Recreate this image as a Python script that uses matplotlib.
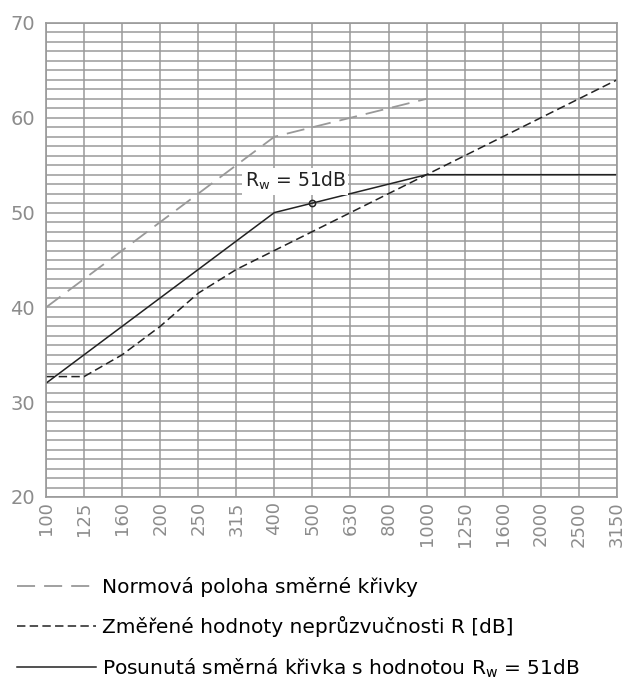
import matplotlib
matplotlib.use('Agg')
import matplotlib.pyplot as plt
from matplotlib.ticker import MultipleLocator

plt.rcParams['font.family'] = ['DejaVu Sans']

# frekvence [Hz]
freqs = ['100', '125', '160', '200', '250', '315', '400', '500', '630',
         '800', '1000', '1250', '1600', '2000', '2500', '3150']

# normova poloha smerne krivky (do 1000 Hz)
refCurve = [40, 43, 46, 49, 52, 55, 58, 59, 60, 61, 62]

# zmerene hodnoty R [dB]
measured = [32.7, 32.7, 35, 38, 41.5, 44, 46, 48, 50, 52, 54,
            56, 58, 60, 62, 64]

# posunuta smerna krivka
shifted = [32, 35, 38, 41, 44, 47, 50, 51, 52, 53, 54,
           54, 54, 54, 54, 54]

rwIndex = 7
rwValue = 51

gridColor = '#9a9a9a'
tickColor = '#8c8c8c'

fig = plt.figure(figsize=(6.26, 6.84), dpi=100)
ax = fig.add_axes([0.0735, 0.2734, 0.912, 0.693])

xs = list(range(len(freqs)))

l1, = ax.plot(xs[:len(refCurve)], refCurve, color='#999999', linewidth=1.3,
              dashes=(10, 5), label='Normová poloha směrné křivky')
l2, = ax.plot(xs, measured, color='#222222', linewidth=1.1,
              dashes=(5.5, 2.8), label='Změřené hodnoty neprůzvučnosti R [dB]')
l3, = ax.plot(xs, shifted, color='#222222', linewidth=1.1,
              label='Posunutá směrná křivka s hodnotou R$_\\mathregular{w}$ = 51dB')
ax.plot(xs[rwIndex], rwValue, marker='o', markersize=4.5, markerfacecolor='none',
        markeredgecolor='#222222', markeredgewidth=1.1)

ax.text(6.55, 53.3, 'R$_\\mathregular{w}$ = 51dB', fontsize=13.5, ha='center', va='center',
        color='#222222', bbox=dict(facecolor='white', edgecolor='none', pad=1.5), zorder=5)

ax.set_xlim(0, len(freqs) - 1)
ax.set_ylim(20, 70)
ax.set_xticks(xs)
ax.set_xticklabels(freqs, rotation=90, fontsize=13, color=tickColor)
ax.yaxis.set_major_locator(MultipleLocator(10))
ax.yaxis.set_minor_locator(MultipleLocator(1))
ax.tick_params(axis='y', labelsize=14, colors=tickColor, length=0, pad=8)
ax.tick_params(axis='y', which='minor', length=0)
ax.tick_params(axis='x', length=0, pad=3)

ax.grid(True, which='both', axis='y', color=gridColor, linewidth=1.1)
ax.grid(True, which='major', axis='x', color=gridColor, linewidth=1.1)
ax.set_axisbelow(True)
for s in ax.spines.values():
    s.set_color(gridColor)
    s.set_linewidth(1.2)

fig.legend(handles=[l1, l2, l3], loc='upper left', bbox_to_anchor=(0.015, 0.168),
           frameon=False, fontsize=14.5, handlelength=3.9, handletextpad=0.3,
           labelspacing=0.95, borderaxespad=0)

fig.savefig('out.png', dpi=100)
